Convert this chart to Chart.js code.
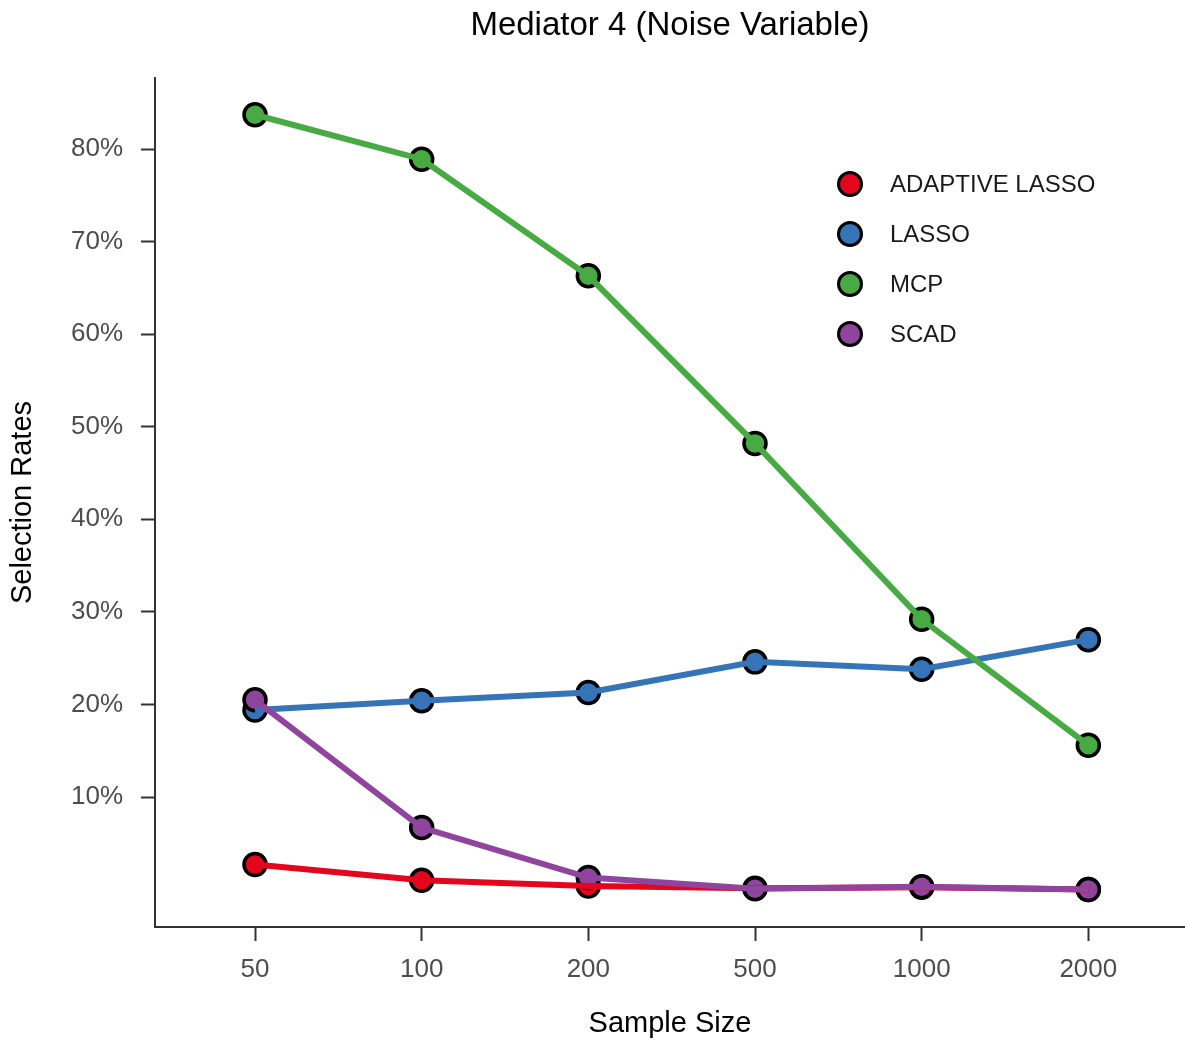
<!DOCTYPE html>
<html>
<head>
<meta charset="utf-8">
<script src="https://cdn.jsdelivr.net/npm/chart.js@4.4.1/dist/chart.umd.min.js"></script>
<style>
  html, body { margin: 0; padding: 0; background: #ffffff; }
  #wrap { position: relative; width: 1185px; height: 1043px; }
  #legend { position: absolute; left: 836px; top: 170px; font-family: "Liberation Sans", Arial, sans-serif; font-size: 24px; color: #1a1a1a; }
  .item { position: relative; height: 50px; }
  .dot { position: absolute; left: 1px; top: 1px; width: 20px; height: 20px; border: 3.5px solid #000; border-radius: 50%; box-sizing: content-box; }
  .lab { position: absolute; left: 54px; top: 0px; line-height: 28px; white-space: nowrap; }
</style>
</head>
<body>
<div id="wrap">
  <canvas id="c" width="1185" height="1043"></canvas>
  <div id="legend"></div>
</div>
<script>
// ---- data ----
const categories = ["50", "100", "200", "500", "1000", "2000"];
const seriesNames = ["ADAPTIVE LASSO", "LASSO", "MCP", "SCAD"];
const adaptiveLasso = [2.7, 1.0, 0.4, 0.15, 0.25, 0.0];
const lasso = [19.4, 20.4, 21.3, 24.6, 23.8, 27.0];
const mcp = [83.7, 78.9, 66.3, 48.2, 29.2, 15.6];
const scad = [20.5, 6.7, 1.3, 0.1, 0.3, 0.0];
const yTicks = [10, 20, 30, 40, 50, 60, 70, 80];
const seriesColors = ["#E3061C", "#3574B6", "#47AA42", "#8F449E"];

const seriesValues = [adaptiveLasso, lasso, mcp, scad];
const FONT = "'Liberation Sans', Arial, Helvetica, sans-serif";

function toPoints(arr) { return arr.map((v, i) => ({ x: i, y: v })); }

const datasets = [];
// lines (on top), SCAD topmost
seriesNames.forEach((name, k) => {
  datasets.push({
    label: name,
    data: toPoints(seriesValues[k]),
    borderColor: seriesColors[k],
    backgroundColor: seriesColors[k],
    borderWidth: 6,
    pointRadius: 0,
    pointHoverRadius: 0,
    tension: 0,
    fill: false,
    order: 10 - k
  });
});
// points (below lines)
seriesNames.forEach((name, k) => {
  datasets.push({
    label: name + " pts",
    data: toPoints(seriesValues[k]),
    showLine: false,
    borderColor: "#000000",
    backgroundColor: seriesColors[k],
    pointBorderColor: "#000000",
    pointBackgroundColor: seriesColors[k],
    pointBorderWidth: 3.5,
    pointRadius: 11,
    pointHoverRadius: 11,
    order: 20 - k
  });
});

new Chart(document.getElementById("c"), {
  type: "line",
  data: { datasets },
  options: {
    responsive: false,
    animation: false,
    events: [],
    layout: { padding: 0, autoPadding: false },
    plugins: {
      legend: { display: false },
      tooltip: { enabled: false },
      title: {
        display: true,
        text: "Mediator 4 (Noise Variable)",
        fullSize: false,
        color: "#000000",
        font: { family: FONT, size: 33, weight: "normal", lineHeight: 1.2 },
        padding: { top: 6, bottom: 32.4 }
      }
    },
    scales: {
      x: {
        type: "linear",
        min: -0.6,
        max: 5.58,
        afterBuildTicks: (s) => { s.ticks = categories.map((c, i) => ({ value: i })); },
        afterFit: (s) => { s.height = 116; },
        ticks: {
          color: "#4d4d4d",
          font: { family: FONT, size: 26 },
          padding: 13,
          maxRotation: 0,
          autoSkip: false,
          callback: (v) => categories[v]
        },
        grid: { drawOnChartArea: false, drawTicks: true, tickLength: 14, tickColor: "#333333", tickWidth: 2 },
        border: { display: true, color: "#333333", width: 2 },
        title: {
          display: true,
          text: "Sample Size",
          color: "#000000",
          font: { family: FONT, size: 29, lineHeight: 1.2 },
          padding: { top: 0, bottom: 2 }
        }
      },
      y: {
        type: "linear",
        min: -4.04,
        max: 87.67,
        afterBuildTicks: (s) => { s.ticks = yTicks.map(v => ({ value: v })); },
        afterFit: (s) => { s.width = 155; },
        ticks: {
          color: "#4d4d4d",
          font: { family: FONT, size: 26 },
          padding: 18,
          autoSkip: false,
          callback: (v) => v + "%"
        },
        grid: { drawOnChartArea: false, drawTicks: true, tickLength: 14, tickColor: "#333333", tickWidth: 2 },
        border: { display: true, color: "#333333", width: 2 },
        title: {
          display: true,
          text: "Selection Rates",
          color: "#000000",
          font: { family: FONT, size: 29, lineHeight: 1.2 },
          padding: { top: 6, bottom: 0 }
        }
      }
    }
  }
});

// HTML legend
const leg = document.getElementById("legend");
seriesNames.forEach((name, k) => {
  const it = document.createElement("div");
  it.className = "item";
  const d = document.createElement("div");
  d.className = "dot";
  d.style.background = seriesColors[k];
  const l = document.createElement("div");
  l.className = "lab";
  l.textContent = name;
  it.appendChild(d); it.appendChild(l);
  leg.appendChild(it);
});
</script>
</body>
</html>
